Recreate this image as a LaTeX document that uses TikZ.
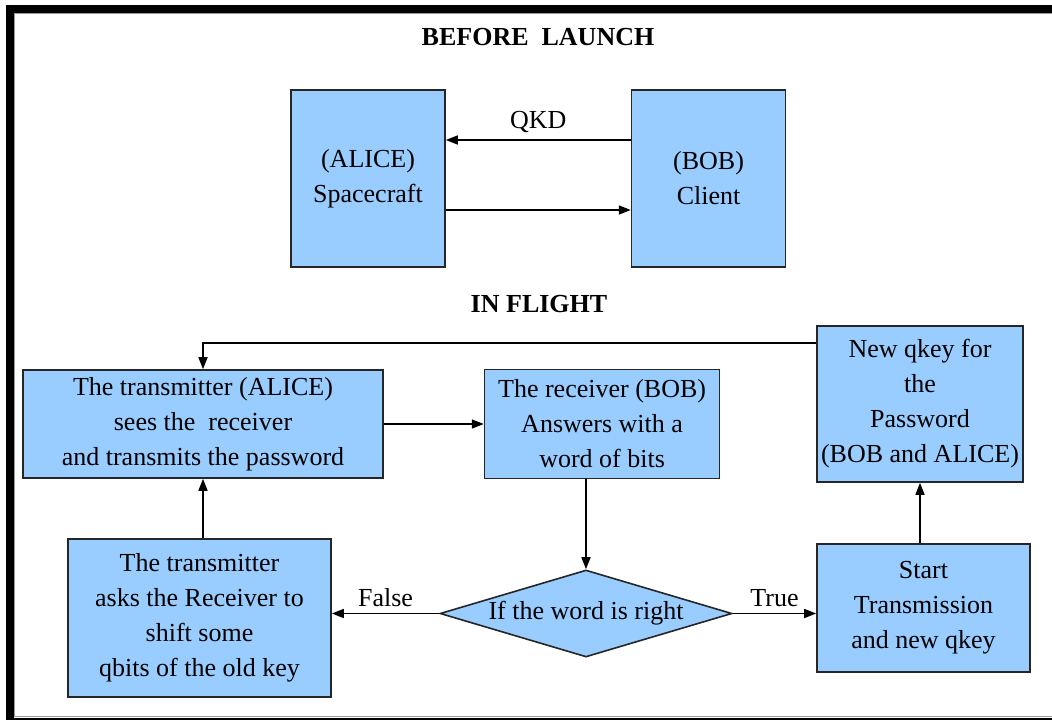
\documentclass[tikz,border=0pt]{standalone}
\usepackage{fontspec}
\setmainfont{Liberation Serif}
\usetikzlibrary{arrows.meta, positioning, shapes.geometric}
\definecolor{boxblue}{HTML}{99CCFF}

\begin{document}
\begin{tikzpicture}[x=1pt,y=-1pt,>={Triangle[length=12pt,width=9pt]},
      font=\fontsize{26}{35}\selectfont,
      blk/.style={draw=black!85,line width=1.6pt,fill=boxblue,align=center,inner sep=0pt},
      test/.style={diamond,draw=black!85,line width=1.6pt,fill=boxblue,inner sep=0pt,
        aspect=3.35,minimum width=292pt,minimum height=87pt},
      title/.style={font=\fontsize{26}{35}\selectfont\bfseries},
      flow/.style={->,line width=1.5pt}]
      \fill[white] (0,0) rectangle (1052,720);
      \useasboundingbox (0,0) rectangle (1052,720);
      % frame
      \draw[line width=8pt] (10,9) rectangle (1070,722);
      \draw[black!40,line width=1.2pt] (14.6,13.6) rectangle (1070,716.4);

      % before launch
      \node[title] (before) at (538,37) {BEFORE\ \ LAUNCH};
      \node[blk, minimum width=154pt, minimum height=177pt] (alice) at (368,178.5) {(ALICE)\\Spacecraft};
      \node[blk, minimum width=154pt, minimum height=177pt] (bob) [right=185pt of alice] {(BOB)\\Client};
      \draw[flow] ([yshift=38.5pt]bob.west) -- node[above=3pt] (qkd) {QKD} ([yshift=38.5pt]alice.east);
      \draw[flow] ([yshift=-31.5pt]alice.east) -- ([yshift=-31.5pt]bob.west);

      % in flight
      \node[title] (inflight) at (539,304) {IN FLIGHT};
      \node[blk, minimum width=360pt, minimum height=108pt] (tx) at (203,424)
        {The transmitter (ALICE)\\sees the\ \ receiver\\and transmits the password};
      \node[blk, minimum width=235pt, minimum height=109pt] (rx) [right=100pt of tx]
        {The receiver (BOB)\\Answers with a\\word of bits};
      \node[test] (check) at (586,613.5) {If the word is right};
      \node[blk, minimum width=263pt, minimum height=158pt] (ask) at (199.5,618)
        {The transmitter\\asks the Receiver to\\shift some\\qbits of the old key};
      \node[blk, minimum width=213pt, minimum height=128pt] (start) at (923.5,608)
        {Start\\Transmission\\and new qkey};
      \node[blk, minimum width=206pt, minimum height=156pt] (qkey) at (920,404)
        {New qkey for\\the\\Password\\(BOB and ALICE)};

      \draw[flow] (tx.east) -- (tx.east -| rx.west);
      \draw[flow] (rx.south -| check.north) -- (check.north);
      \draw[flow] (check.west) -- node[above=3pt] {False} (check.west -| ask.east);
      \draw[flow] (check.east) -- node[above=3pt] {True} (check.east -| start.west);
      \draw[flow] (ask.north -| tx.south) -- (tx.south);
      \draw[flow] (start.north -| qkey.south) -- (qkey.south);
      \draw[flow] ([yshift=61pt]qkey.west) -| (tx.north);
    \end{tikzpicture}
\end{document}
